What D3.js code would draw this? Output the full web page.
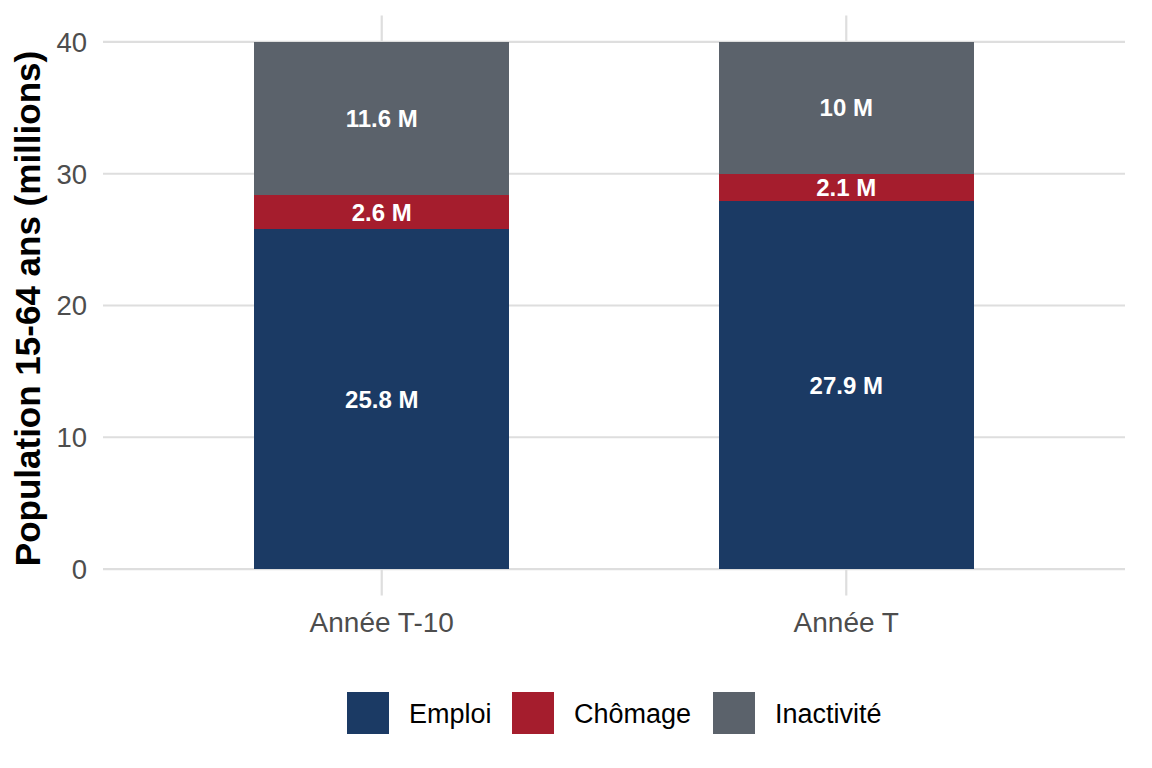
<!DOCTYPE html>
<html>
<head>
<meta charset="utf-8">
<script src="https://cdn.jsdelivr.net/npm/d3@7"></script>
<style>
  body { margin: 0; background: #fff; }
  text { font-family: "Liberation Sans", Arial, sans-serif; }
</style>
</head>
<body>
<div id="chart"></div>
<script>
// Data
const years = ["Année T-10", "Année T"];
const statuses = ["Emploi", "Chômage", "Inactivité"];
const emploi = [25.8, 27.9];
const chomage = [2.6, 2.1];
const inactivite = [11.6, 10];
const labels = [["25.8 M", "27.9 M"], ["2.6 M", "2.1 M"], ["11.6 M", "10 M"]];
const yTicks = [0, 10, 20, 30, 40];
const colors = ["#1b3a64", "#a51d2d", "#5b626b"];

const width = 1152, height = 768;
const panel = { left: 103, right: 1125, top: 15.6, bottom: 595.4 };

const svg = d3.select("#chart").append("svg")
  .attr("width", width).attr("height", height);

const rows = years.map((y, i) => ({ year: y, Emploi: emploi[i], "Chômage": chomage[i], "Inactivité": inactivite[i] }));
const stacked = d3.stack().keys(statuses)(rows);

// Scales (ggplot-like expansion)
const y = d3.scaleLinear().domain([-2, 42]).range([panel.bottom, panel.top]);
const xPos = d3.scaleLinear().domain([0.4, 2.6]).range([panel.left, panel.right]);
const barW = xPos(0.55) - xPos(0);

// Grid
svg.append("g").selectAll("line").data(yTicks).join("line")
  .attr("x1", panel.left).attr("x2", panel.right)
  .attr("y1", d => y(d)).attr("y2", d => y(d))
  .attr("stroke", "#dedede").attr("stroke-width", 2.2);
svg.append("g").selectAll("line").data(years).join("line")
  .attr("x1", (d, i) => xPos(i + 1)).attr("x2", (d, i) => xPos(i + 1))
  .attr("y1", panel.top).attr("y2", panel.bottom)
  .attr("stroke", "#dedede").attr("stroke-width", 2.2);

// Bars
const groups = svg.append("g").selectAll("g").data(stacked).join("g")
  .attr("fill", (d, i) => colors[i]);
groups.selectAll("rect").data(d => d).join("rect")
  .attr("x", (d, i) => xPos(i + 1) - barW / 2)
  .attr("width", barW)
  .attr("y", d => y(d[1]))
  .attr("height", d => y(d[0]) - y(d[1]))
  .attr("shape-rendering", "crispEdges");

// Segment labels
stacked.forEach((s, k) => {
  svg.append("g").selectAll("text").data(s).join("text")
    .attr("x", (d, i) => xPos(i + 1))
    .attr("y", d => y((d[0] + d[1]) / 2))
    .attr("dy", "0.36em")
    .attr("text-anchor", "middle")
    .attr("fill", "#fff")
    .attr("font-weight", "bold")
    .attr("font-size", "24px")
    .text((d, i) => labels[k][i]);
});

// Y tick labels
svg.append("g").selectAll("text").data(yTicks).join("text")
  .attr("x", 87).attr("y", d => y(d)).attr("dy", "0.36em")
  .attr("text-anchor", "end").attr("fill", "#4d4d4d").attr("font-size", "27.5px")
  .text(d => d);

// X tick labels
svg.append("g").selectAll("text").data(years).join("text")
  .attr("x", (d, i) => xPos(i + 1)).attr("y", 632)
  .attr("text-anchor", "middle").attr("fill", "#4d4d4d").attr("font-size", "28px")
  .text(d => d);

// Y axis title
svg.append("text")
  .attr("transform", `translate(40,${(panel.top + panel.bottom) / 2 + 3}) rotate(-90)`)
  .attr("text-anchor", "middle").attr("font-weight", "bold").attr("font-size", "35px")
  .attr("fill", "#000")
  .text("Population 15-64 ans (millions)");

// Legend
const legendX = [347, 512, 713];
const legend = svg.append("g").selectAll("g").data(statuses).join("g")
  .attr("transform", (d, i) => `translate(${legendX[i]},692)`);
legend.append("rect").attr("width", 42).attr("height", 42)
  .attr("fill", (d, i) => colors[i]);
legend.append("text").attr("x", 62).attr("y", 21).attr("dy", "0.36em")
  .attr("font-size", "27px").attr("fill", "#000")
  .text(d => d);
</script>
</body>
</html>
